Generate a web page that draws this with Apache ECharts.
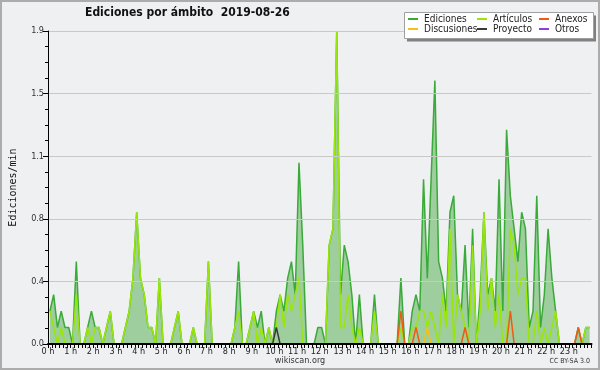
<!DOCTYPE html>
<html><head><meta charset="utf-8">
<script src="https://cdn.jsdelivr.net/npm/echarts@6/dist/echarts.min.js"></script>
<style>html,body{margin:0;padding:0;background:#eff0f2;}#c{width:600px;height:370px;}</style>
</head><body><div id="c"></div>
<script>
// 10-minute bins, edits per minute (144 bins = 24 h)
const ediciones = [
  0.2,0.3,0.1,0.2,0.1,0.1, 0,0.5,0,0,0.1,0.2,
  0.1,0.1,0,0.1,0.2,0, 0,0,0.1,0.2,0.4,0.8,
  0.4,0.3,0.1,0.1,0,0.4, 0,0,0,0.1,0.2,0,
  0,0,0.1,0,0,0, 0.5,0,0,0,0,0,
  0,0.1,0.5,0,0,0.1, 0.2,0.1,0.2,0,0.1,0,
  0.2,0.3,0.2,0.4,0.5,0.3, 1.1,0.6,0,0,0,0.1,
  0.1,0,0.6,0.7,1.9,0.3, 0.6,0.5,0.3,0,0.3,0,
  0,0,0.3,0,0,0, 0,0,0,0.4,0,0,
  0.2,0.3,0.2,1.0,0.4,1.0, 1.6,0.5,0.4,0.2,0.8,0.9,
  0.3,0.2,0.6,0.1,0.7,0, 0.3,0.8,0.3,0.4,0.2,1.0,
  0.2,1.3,0.9,0.7,0.5,0.8, 0.7,0.1,0.2,0.9,0.1,0.3,
  0.7,0.4,0.2,0,0,0, 0,0,0.1,0,0.1,0.1
];
const articulos = [
  0.2,0.1,0,0.1,0,0, 0,0.3,0,0,0.1,0,
  0.1,0.1,0,0.1,0.2,0, 0,0,0.1,0.2,0.4,0.8,
  0.4,0.3,0.1,0.1,0,0.4, 0,0,0,0.1,0.2,0,
  0,0,0.1,0,0,0, 0.5,0,0,0,0,0,
  0,0.1,0.2,0,0,0.1, 0.2,0,0.1,0,0.1,0,
  0.1,0.3,0.1,0.3,0.2,0.3, 0.4,0,0,0,0,0,
  0,0,0.6,0.7,1.9,0.1, 0.1,0.3,0.1,0,0.1,0,
  0,0,0.2,0,0,0, 0,0,0,0.1,0,0,
  0.1,0.1,0.2,0.2,0.1,0.2, 0.1,0,0.3,0.1,0.7,0,
  0.3,0.2,0.1,0,0.6,0, 0.2,0.8,0.2,0.4,0.1,0.3,
  0,0,0.7,0.6,0.3,0.4, 0.4,0,0,0.2,0,0.1,
  0,0.1,0.2,0,0,0, 0,0,0,0,0.1,0.1
];
const anexos = [
  0,0,0,0,0,0, 0,0,0,0,0,0,
  0,0,0,0,0,0, 0,0,0,0,0,0,
  0,0,0,0,0,0, 0,0,0,0,0,0,
  0,0,0,0,0,0, 0,0,0,0,0,0,
  0,0,0,0,0,0, 0,0,0,0,0,0,
  0,0,0,0,0,0, 0,0,0,0,0,0,
  0,0,0,0,0,0, 0,0,0,0,0,0,
  0,0,0,0,0,0, 0,0,0,0.2,0,0,
  0,0.1,0,0,0,0, 0,0,0,0,0,0,
  0,0,0.1,0,0,0, 0,0,0,0,0,0,
  0,0,0.2,0,0,0, 0,0,0,0,0,0,
  0,0,0,0,0,0, 0,0,0.1,0,0,0
];
const discusiones = [
  0,0,0,0,0,0, 0,0,0,0,0,0,
  0,0,0,0,0,0, 0,0,0,0,0,0,
  0,0,0,0,0,0, 0,0,0,0,0,0,
  0,0,0,0,0,0, 0,0,0,0,0,0,
  0,0,0,0,0,0, 0,0,0,0,0,0,
  0,0,0,0,0,0, 0,0,0,0,0,0,
  0,0,0,0,0,0, 0,0,0,0,0,0,
  0,0,0,0,0,0, 0,0,0,0,0,0,
  0,0,0,0,0.1,0, 0,0,0,0,0,0,
  0,0,0,0,0,0, 0,0,0,0,0,0,
  0,0,0,0,0,0, 0,0,0,0,0,0,
  0,0,0,0,0,0, 0,0,0,0,0,0
];
const proyecto = [
  0,0,0,0,0,0, 0,0,0,0,0,0,
  0,0,0,0,0,0, 0,0,0,0,0,0,
  0,0,0,0,0,0, 0,0,0,0,0,0,
  0,0,0,0,0,0, 0,0,0,0,0,0,
  0,0,0,0,0,0, 0,0,0,0,0,0,
  0.1,0,0,0,0,0, 0,0,0,0,0,0,
  0,0,0,0,0,0, 0,0,0,0,0,0,
  0,0,0,0,0,0, 0,0,0,0,0,0,
  0,0,0,0,0,0, 0,0,0,0,0,0,
  0,0,0,0,0,0, 0,0,0,0,0,0,
  0,0,0,0,0,0, 0,0,0,0,0,0,
  0,0,0,0,0,0, 0,0,0,0,0,0
];
const otros = [
  0,0,0,0,0,0, 0,0,0,0,0,0,
  0,0,0,0,0,0, 0,0,0,0,0,0,
  0,0,0,0,0,0, 0,0,0,0,0,0,
  0,0,0,0,0,0, 0,0,0,0,0,0,
  0,0,0,0,0,0, 0,0,0,0,0,0,
  0,0,0,0,0,0, 0,0,0,0,0,0,
  0,0,0,0,0,0, 0,0,0,0,0,0,
  0,0,0,0,0,0, 0,0,0,0,0,0,
  0,0,0,0,0,0, 0,0,0,0,0,0,
  0,0,0,0,0,0, 0,0,0,0,0,0,
  0,0,0,0,0,0, 0,0,0,0,0,0,
  0,0,0,0,0,0, 0,0,0,0,0,0
];
const hourLabels = ['0 h','1 h','2 h','3 h','4 h','5 h','6 h','7 h','8 h','9 h','10 h','11 h',
  '12 h','13 h','14 h','15 h','16 h','17 h','18 h','19 h','20 h','21 h','22 h','23 h'];
const titleText = 'Ediciones por ámbito  2019-08-26';
const yName = 'Ediciones/min';

const FONT = "'DejaVu Sans Condensed','DejaVu Sans',sans-serif";
const binsPerHour = 6;
const toXY = arr => arr.map((v, i) => [i + 0.5, v]);

const defs = [
  {name:'Ediciones', data:ediciones, color:'#3aaa38', area:'#9ecd9e'},
  {name:'Artículos', data:articulos, color:'#9be60a'},
  {name:'Anexos', data:anexos, color:'#f05a14'},
  {name:'Discusiones', data:discusiones, color:'#f3c21a'},
  {name:'Proyecto', data:proyecto, color:'#3a3a3a'},
  {name:'Otros', data:otros, color:'#8a3fe0'}
];

const series = defs.map((d, k) => ({
  name: d.name, type:'line', data: toXY(d.data), color: d.color,
  showSymbol:false, symbol:'none', z: 2 + k,
  lineStyle:{color:d.color, width:1.5},
  areaStyle: d.area ? {color:d.area, opacity:1} : undefined,
  emphasis:{disabled:true}
}));

const legendBase = {orient:'vertical', top:14, padding:0, itemGap:0, itemWidth:10, itemHeight:2,
  icon:'rect', z:30, selectedMode:false,
  textStyle:{fontFamily:FONT, fontSize:10, lineHeight:10, color:'#222', padding:[0,0,0,1]}};

const chart = echarts.init(document.getElementById('c'));
chart.setOption({
  backgroundColor:'#eff0f2',
  animation:false,
  textStyle:{fontFamily:FONT},
  title:{text:titleText, left:85, top:7, padding:0,
    textStyle:{fontFamily:FONT, fontSize:12, fontWeight:'bold', color:'#111'}},
  grid:{left:45, right:8.5, top:31, bottom:26},
  xAxis:{type:'value', min:0, max:144, interval:binsPerHour, z:12,
    axisLine:{lineStyle:{color:'#000', width:2}},
    axisTick:{show:true, length:4, lineStyle:{color:'#000', width:1}},
    minorTick:{show:true, splitNumber:binsPerHour, length:4, lineStyle:{color:'#000', width:1}},
    splitLine:{show:false},
    axisLabel:{formatter: v => (v < 144 ? hourLabels[Math.round(v / binsPerHour)] : ''),
      fontFamily:FONT, fontSize:9, color:'#222', margin:3}},
  yAxis:{type:'value', min:0, max:1.9, interval:0.38, z:10,
    name:yName, nameLocation:'middle', nameGap:30,
    nameTextStyle:{fontFamily:"'DejaVu Sans Mono',monospace", fontSize:10, color:'#111'},
    axisLine:{show:true, lineStyle:{color:'#000', width:1}},
    axisTick:{show:true, length:5, lineStyle:{color:'#000'}},
    minorTick:{show:true, splitNumber:4, length:3, lineStyle:{color:'#000'}},
    splitLine:{show:true, lineStyle:{color:'#c9c9c9', width:1}},
    axisLabel:{formatter: v => v.toFixed(1), fontFamily:FONT, fontSize:9, color:'#333', margin:4}},
  legend:[
    Object.assign({}, legendBase, {left:408, data:['Ediciones','Discusiones']}),
    Object.assign({}, legendBase, {left:477, data:['Artículos','Proyecto']}),
    Object.assign({}, legendBase, {left:539, data:['Anexos','Otros']})
  ],
  graphic:[
    {type:'rect', z:20, shape:{x:1, y:1, width:598, height:368}, style:{fill:'none', stroke:'#acacac', lineWidth:2}},
    {type:'rect', z:20, shape:{x:407, y:15.5, width:189, height:26}, style:{fill:'#808080'}},
    {type:'rect', z:21, shape:{x:404.5, y:12.5, width:189, height:26}, style:{fill:'#ffffff', stroke:'#a0a0a0', lineWidth:1}},
    {type:'text', z:20, left:'center', top:356, style:{text:'wikiscan.org', fontFamily:FONT, fontSize:9, fill:'#333'}},
    {type:'text', z:20, right:10, top:358, style:{text:'CC BY-SA 3.0', fontFamily:FONT, fontSize:7, fill:'#333'}}
  ],
  series: series
});
</script></body></html>
